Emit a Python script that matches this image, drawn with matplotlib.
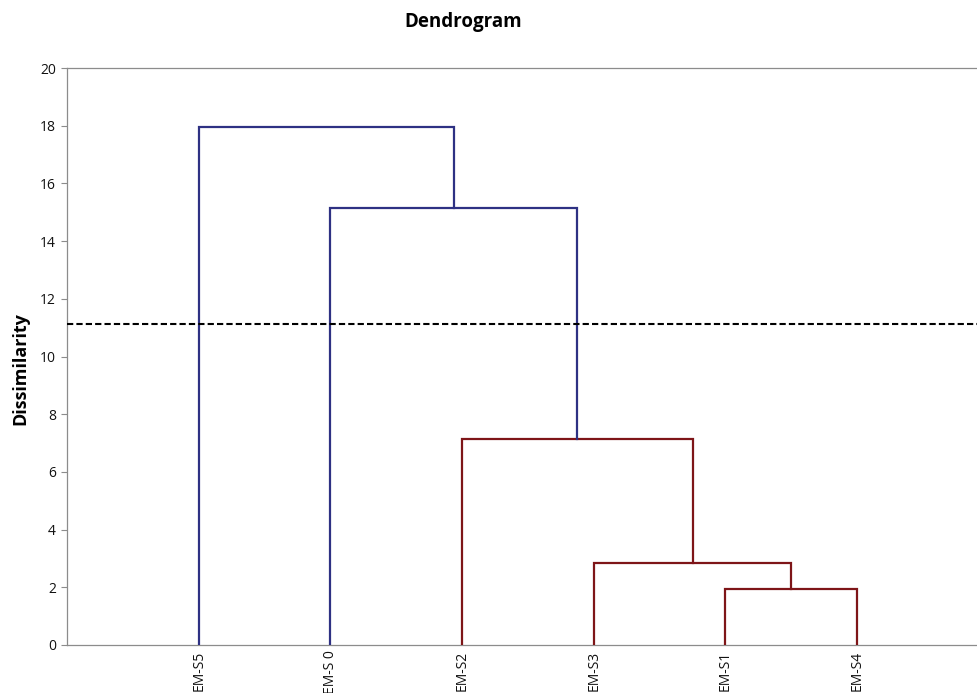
import matplotlib
matplotlib.use("Agg")
import matplotlib.pyplot as plt

plt.rcParams['font.family'] = ['Open Sans', 'DejaVu Sans']

# Leaves in dendrogram order
leaf_labels = ["EM-S5", "EM-S 0", "EM-S2", "EM-S3", "EM-S1", "EM-S4"]

# Agglomeration steps: (left child, right child, dissimilarity)
# children are leaf names or indices of earlier merges ("n0", "n1", ...)
merge_left = ["EM-S1", "EM-S3", "EM-S2", "EM-S 0", "EM-S5"]
merge_right = ["EM-S4", "n0", "n1", "n2", "n3"]
merge_height = [1.94, 2.84, 7.14, 15.16, 17.95]

cut_level = 11.14

yticks = [0, 2, 4, 6, 8, 10, 12, 14, 16, 18, 20]

col_above = "#2E3183"
col_below = "#7E1518"

fig = plt.figure(figsize=(9.77, 6.93), dpi=100)
ax = fig.add_axes([67 / 977, 48 / 693, 910 / 977, 577 / 693])

# Position and height of every node
pos = {name: (i, 0.0) for i, name in enumerate(leaf_labels)}
for k, (a, b, h) in enumerate(zip(merge_left, merge_right, merge_height)):
    xa, ya = pos[a]
    xb, yb = pos[b]
    color = col_below if h < cut_level else col_above
    ax.plot([xa, xa, xb, xb], [ya, h, h, yb], color=color, lw=1.6,
            solid_joinstyle="miter", zorder=3)
    pos["n%d" % k] = ((xa + xb) / 2.0, h)

ax.axhline(cut_level, color="black", lw=1.5, ls=(0, (3, 1.5)), zorder=4)

ax.set_xlim(-1, 5.91)
ax.set_ylim(0, 20)
ax.set_yticks(yticks)
ax.set_yticklabels([str(t) for t in yticks], fontsize=10)
ax.set_xticks(range(len(leaf_labels)))
ax.set_xticklabels(leaf_labels, rotation=90, fontsize=10, va="top")

ax.tick_params(axis="y", direction="out", length=4, width=0.8,
               color="#8C8C8C", pad=4, labelcolor="#111111")
ax.tick_params(axis="x", length=0, pad=4, labelcolor="#111111")

for side in ["left", "top", "bottom"]:
    ax.spines[side].set_color("#8C8C8C")
    ax.spines[side].set_linewidth(0.9)
ax.spines["right"].set_visible(False)

fig.text(463 / 977, 1 - 22 / 693, "Dendrogram", ha="center", va="center",
         fontsize=13.5, fontweight="bold")
fig.text(20 / 977, 1 - 369 / 693, "Dissimilarity", ha="center", va="center",
         rotation=90, fontsize=13, fontweight="bold")

fig.savefig("out.png", dpi=100)
